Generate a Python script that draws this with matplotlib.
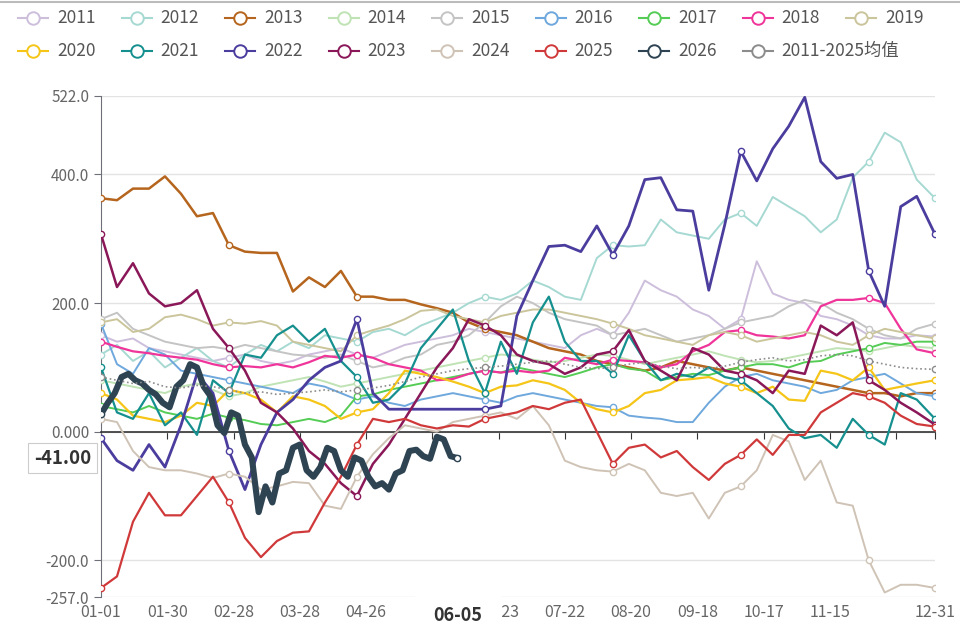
import matplotlib
matplotlib.use("Agg")
import matplotlib.pyplot as plt
import matplotlib.transforms as mtransforms
from matplotlib.lines import Line2D

plt.rcParams['font.family'] = ['Noto Sans CJK SC', 'DejaVu Sans']

# day index on a 366-day (leap) calendar axis
week_days = list(range(0, 358, 7)) + [365]
days_2026 = list(range(0, 154, 3)) + [156]

y2011 = [150, 140, 145, 130, 125, 120, 115, 110, 115, 120, 110, 105, 110, 120, 125, 130, 120, 115, 125, 135,
         140, 145, 150, 160, 155, 150, 145, 140, 135, 130, 150, 160, 150, 185, 235, 220, 210, 190, 180, 160,
         175, 265, 215, 205, 200, 180, 175, 165, 150, 145, 145, 150, 148]
y2012 = [120, 135, 110, 125, 100, 115, 130, 110, 100, 120, 135, 125, 140, 130, 150, 145, 140, 155, 160, 150,
         165, 175, 185, 200, 210, 205, 215, 235, 225, 210, 205, 270, 290, 288, 290, 330, 310, 305, 300, 330,
         340, 320, 365, 350, 335, 310, 330, 395, 420, 465, 450, 392, 363]
y2013 = [363, 360, 378, 378, 397, 370, 335, 340, 290, 280, 278, 278, 218, 240, 225, 250, 210, 210, 205, 205,
         198, 192, 185, 170, 160, 155, 150, 140, 130, 125, 120, 110, 105, 100, 95, 100, 110, 105, 100, 95,
         100, 95, 90, 85, 80, 75, 70, 65, 60, 60, 55, 60, 60]
y2014 = [80, 75, 70, 65, 60, 70, 75, 65, 55, 60, 70, 75, 80, 85, 78, 70, 75, 80, 85, 90,
         95, 100, 105, 110, 115, 120, 118, 112, 108, 110, 115, 120, 118, 112, 105, 110, 115, 120, 125, 118,
         112, 108, 110, 115, 120, 125, 130, 128, 125, 130, 135, 132, 130]
y2015 = [175, 185, 160, 150, 140, 135, 130, 132, 128, 135, 130, 125, 120, 118, 115, 120, 110, 100, 105, 115,
         120, 135, 140, 150, 170, 195, 210, 200, 185, 175, 170, 165, 150, 155, 160, 150, 140, 145, 150, 160,
         170, 175, 180, 195, 205, 200, 185, 175, 160, 150, 145, 160, 168]
y2016 = [168, 105, 90, 130, 120, 95, 90, 85, 80, 75, 70, 65, 60, 75, 70, 60, 50, 55, 45, 40,
         50, 55, 60, 55, 50, 45, 55, 60, 55, 50, 45, 40, 38, 25, 22, 20, 15, 15, 45, 70,
         85, 90, 80, 75, 70, 60, 65, 80, 85, 90, 75, 60, 55]
y2017 = [40, 35, 30, 40, 30, 25, 20, 28, 22, 18, 12, 10, 15, 20, 15, 25, 55, 58, 65, 70,
         75, 80, 85, 90, 95, 92, 100, 95, 90, 85, 92, 100, 105, 98, 95, 80, 85, 90, 88, 95,
         100, 105, 105, 100, 108, 110, 120, 125, 130, 138, 135, 140, 140]
y2018 = [140, 132, 125, 122, 118, 115, 112, 105, 100, 102, 100, 105, 100, 108, 118, 115, 120, 115, 105, 100,
         95, 80, 82, 90, 95, 92, 95, 92, 95, 115, 110, 105, 112, 110, 108, 100, 105, 125, 135, 155,
         158, 150, 148, 145, 150, 195, 205, 205, 208, 200, 160, 128, 122]
y2019 = [170, 175, 155, 160, 178, 182, 175, 165, 170, 168, 172, 165, 140, 135, 130, 125, 150, 158, 165, 175,
         188, 190, 180, 175, 170, 180, 185, 190, 190, 185, 180, 175, 168, 160, 150, 145, 140, 135, 150, 155,
         150, 140, 145, 150, 155, 150, 140, 135, 150, 160, 155, 150, 145]
y2020 = [60, 50, 25, 20, 15, 25, 45, 40, 65, 60, 50, 30, 55, 50, 40, 20, 30, 35, 60, 95,
         90, 85, 78, 70, 60, 70, 72, 80, 75, 65, 45, 35, 30, 40, 60, 65, 80, 82, 85, 75,
         70, 60, 70, 50, 48, 95, 90, 80, 100, 65, 70, 75, 80]
y2021 = [100, 30, 20, 60, 10, 30, -5, 80, 60, 120, 115, 150, 165, 140, 160, 110, 85, 45, 50, 75,
         130, 160, 190, 110, 60, 140, 90, 170, 210, 140, 110, 110, 90, 150, 110, 80, 90, 85, 100, 85,
         80, 60, 40, 5, -10, -5, -25, 20, -5, -20, 60, 50, 20]
y2022 = [-10, -45, -60, -20, -55, 10, 90, 60, -30, -90, -20, 30, 50, 80, 100, 110, 175, 60, 35, 35,
         35, 35, 35, 35, 35, 40, 180, 235, 288, 290, 280, 320, 275, 320, 392, 395, 345, 343, 220, 322,
         436, 390, 440, 475, 520, 420, 394, 400, 250, 195, 350, 366, 307]
y2023 = [307, 225, 262, 215, 195, 200, 220, 160, 130, 95, 45, 30, 5, -30, -50, -80, -100, -50, -20, 20,
         60, 100, 130, 175, 165, 150, 120, 110, 105, 90, 100, 120, 125, 158, 110, 95, 80, 130, 120, 95,
         90, 80, 60, 95, 90, 165, 150, 170, 80, 65, 45, 30, 11]
y2024 = [20, 15, -30, -55, -60, -60, -65, -72, -65, -70, -90, -85, -78, -80, -115, -120, -70, -35, -10, 10,
         5, 0, 15, 20, 25, 30, 20, 40, 10, -45, -55, -60, -62, -50, -60, -95, -100, -95, -135, -95,
         -85, -60, -5, -15, -75, -45, -110, -115, -200, -250, -238, -238, -243]
y2025 = [-243, -225, -140, -95, -130, -130, -100, -70, -110, -165, -195, -170, -157, -155, -110, -70, -20, 20, 15, 20,
         10, 5, 10, 8, 20, 25, 30, 40, 35, 45, 50, 0, -50, -25, -20, -40, -30, -55, -75, -50,
         -36, -12, -36, -5, -5, 30, 45, 60, 55, 45, 25, 12, 8]
y2026 = [27, 45, 60, 85, 90, 80, 75, 65, 58, 45, 38, 70, 80, 105, 100, 70, 55, 10, -2, 30,
         25, -20, -40, -125, -85, -110, -65, -60, -25, -20, -60, -70, -55, -25, -30, -60, -70, -40, -45, -70,
         -85, -80, -90, -65, -60, -30, -28, -38, -42, -8, -12, -38, -41]
y_avg = [85, 80, 75, 78, 70, 68, 72, 70, 65, 60, 62, 58, 60, 62, 65, 62, 65, 68, 72, 78,
         85, 90, 95, 98, 100, 102, 105, 108, 110, 105, 100, 98, 100, 105, 108, 102, 98, 100, 98, 102,
         108, 112, 115, 110, 112, 118, 120, 118, 110, 105, 100, 98, 97]

names = ['2011', '2012', '2013', '2014', '2015', '2016', '2017', '2018', '2019',
         '2020', '2021', '2022', '2023', '2024', '2025', '2026', '2011-2025均值']
values = [y2011, y2012, y2013, y2014, y2015, y2016, y2017, y2018, y2019,
          y2020, y2021, y2022, y2023, y2024, y2025, y2026, y_avg]
colors = ['#cdbfdc', '#a6d9d2', '#b5651d', '#bfe3b4', '#c4c4c4', '#6fa8dc', '#55cc55', '#f0359a', '#cbc59c',
          '#f5c518', '#16908f', '#4a3d9e', '#8a1859', '#cfc3b6', '#d0393a', '#2e4453', '#8c8c8c']
widths = [1.4, 1.4, 1.8, 1.4, 1.4, 1.4, 1.4, 1.6, 1.4,
          1.6, 1.6, 2.0, 1.8, 1.4, 1.6, 4.4, 1.2]

xtick_days = [0, 29, 58, 87, 116, 145, 174, 203, 232, 261, 290, 319, 348, 365]
label_days = [0, 29, 58, 87, 116, 174, 203, 232, 261, 290, 319, 365]
label_text = ['01-01', '01-30', '02-28', '03-28', '04-26', '06-23', '07-22',
              '08-20', '09-18', '10-17', '11-15', '12-31']
ytick_vals = [-257, -200, 0, 200, 400, 522]
ytick_text = ['-257.0', '-200.0', '0.000', '200.0', '400.0', '522.0']

fig = plt.figure(figsize=(9.6, 6.26), dpi=100)
ax = fig.add_axes([101 / 960, 29 / 626, 834 / 960, 501 / 626])

for i, (name, ys, col, lw) in enumerate(zip(names, values, colors, widths)):
    xs = days_2026 if name == '2026' else week_days
    n = len(ys)
    marks = [0, n - 1] if name == '2026' else list(range(0, n - 1, 8)) + [n - 1]
    ls = ':' if name.endswith('均值') else '-'
    ax.plot(xs, ys, color=col, lw=lw, ls=ls, marker='o', ms=4.5, mfc='white',
            mec=col, mew=1, markevery=marks, zorder=3 + i * 0.1,
            solid_joinstyle='round')

ax.set_xlim(0, 365)
ax.set_ylim(-257, 522)
ax.set_yticks(ytick_vals, labels=ytick_text)
ax.yaxis.grid(True, color='#e3e3e3', lw=1)
ax.set_axisbelow(True)
ax.tick_params(axis='y', length=5, color='#6e7079', labelcolor='#666666', labelsize=11)

for s in ['top', 'right']:
    ax.spines[s].set_visible(False)
ax.spines['left'].set_color('#6e7079')
ax.spines['bottom'].set_position(('data', 0))
ax.spines['bottom'].set_color('#333333')
ax.spines['bottom'].set_linewidth(1.2)
ax.spines['bottom'].set_zorder(2.5)
ax.set_xticks(xtick_days)
ax.tick_params(axis='x', length=5, color='#333333', labelbottom=False)

sec = ax.secondary_xaxis('bottom')
sec.set_xticks(label_days, labels=label_text)
sec.tick_params(length=0, pad=5, labelsize=11.5, labelcolor='#666666')
sec.spines['bottom'].set_visible(False)

# axis pointer labels
tx = mtransforms.blended_transform_factory(ax.transData, ax.transAxes)
ax.text(156, -0.036, '06-05', transform=tx, ha='center', va='center', fontsize=13,
        fontweight='bold', color='#333333', zorder=10, clip_on=False,
        bbox=dict(boxstyle='square,pad=1.0', fc='white', ec='white'))
ty = mtransforms.blended_transform_factory(ax.transAxes, ax.transData)
ax.text(-0.012, -41, '-41.00', transform=ty, ha='right', va='center', fontsize=13.5,
        fontweight='bold', color='#333333', zorder=10, clip_on=False,
        bbox=dict(boxstyle='square,pad=0.3', fc='white', ec='#cccccc', lw=0.8))

# legend, two rows
for i, (name, col) in enumerate(zip(names, colors)):
    row = 0 if i < 9 else 1
    c = i if i < 9 else i - 9
    cx = 33 + 103.5 * c
    fy = 1 - (18 if row == 0 else 51) / 626
    fig.add_artist(Line2D([(cx - 15) / 960, (cx + 15) / 960], [fy, fy], transform=fig.transFigure,
                          color=col, lw=1.5))
    fig.add_artist(Line2D([cx / 960], [fy], transform=fig.transFigure, marker='o', ms=9,
                          mfc='white', mec=col, mew=1.4))
    fig.text((cx + 24) / 960, fy, name, ha='left', va='center', fontsize=12.5, color='#555555')

fig.add_artist(Line2D([0, 1], [1 - 2 / 626, 1 - 2 / 626], transform=fig.transFigure,
                      color='#bbbbbb', lw=1.5))

fig.savefig('out.png', dpi=100)
